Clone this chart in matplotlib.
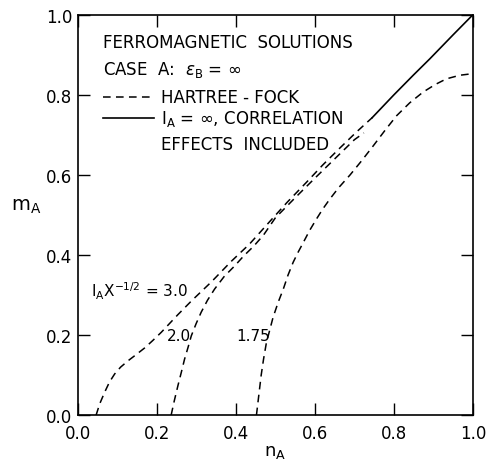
import matplotlib
matplotlib.use("Agg")
import matplotlib.pyplot as plt

# Hartree-Fock curves, one per value of I_A X^(-1/2)
n_30 = [0.046, 0.055, 0.0675, 0.080, 0.093, 0.108, 0.127, 0.147, 0.169, 0.190, 0.211,
        0.232, 0.253, 0.287, 0.338, 0.388, 0.435, 0.486, 0.530, 0.579, 0.620, 0.663,
        0.705, 0.745]
m_30 = [0.0, 0.028, 0.057, 0.083, 0.103, 0.120, 0.136, 0.151, 0.168, 0.187, 0.207,
        0.229, 0.251, 0.285, 0.333, 0.384, 0.428, 0.484, 0.532, 0.582, 0.625, 0.667,
        0.707, 0.743]

n_20 = [0.236, 0.244, 0.253, 0.262, 0.270, 0.279, 0.287, 0.299, 0.312, 0.328, 0.346,
        0.370, 0.397, 0.420, 0.445, 0.470, 0.500, 0.550, 0.600, 0.650, 0.700, 0.724]
m_20 = [0.0, 0.036, 0.073, 0.108, 0.140, 0.170, 0.198, 0.228, 0.257, 0.287, 0.315,
        0.346, 0.373, 0.398, 0.422, 0.450, 0.493, 0.543, 0.592, 0.640, 0.688, 0.705]

n_175 = [0.452, 0.455, 0.458, 0.461, 0.464, 0.470, 0.477, 0.486, 0.494, 0.507, 0.520,
         0.532, 0.545, 0.558, 0.571, 0.587, 0.604, 0.620, 0.638, 0.660, 0.689, 0.718,
         0.748, 0.778, 0.807, 0.840, 0.874, 0.905, 0.933, 0.967, 1.0]
m_175 = [0.0, 0.025, 0.050, 0.075, 0.100, 0.140, 0.180, 0.214, 0.244, 0.282, 0.315,
         0.350, 0.382, 0.408, 0.432, 0.462, 0.490, 0.515, 0.540, 0.568, 0.600, 0.635,
         0.673, 0.712, 0.748, 0.780, 0.807, 0.826, 0.840, 0.849, 0.853]

# I_A = infinity, correlation effects included
n_corr = [0.745, 0.80, 0.85, 0.891, 0.95, 1.0]
m_corr = [0.743, 0.80, 0.85, 0.890, 0.95, 1.0]

xticks = [0.0, 0.2, 0.4, 0.6, 0.8, 1.0]
yticks = [0.0, 0.2, 0.4, 0.6, 0.8, 1.0]

plt.rcParams['font.family'] = ['DejaVu Sans']
plt.rcParams['mathtext.fontset'] = 'dejavusans'

fig = plt.figure(figsize=(4.87, 4.64), dpi=100)
ax = fig.add_axes([0.160, 0.103, 0.811, 0.863])

dash = (0, (5, 3.5))
ax.plot(n_30, m_30, color='black', lw=1.1, linestyle=dash)
ax.plot(n_20, m_20, color='black', lw=1.1, linestyle=dash)
ax.plot(n_175, m_175, color='black', lw=1.1, linestyle=dash)
ax.plot(n_corr, m_corr, color='black', lw=1.2)

ax.set_xlim(0, 1)
ax.set_ylim(0, 1)
ax.set_xticks(xticks)
ax.set_yticks(yticks)
ax.set_xticklabels([f"{v:.1f}" for v in xticks])
ax.set_yticklabels([f"{v:.1f}" for v in yticks])
ax.tick_params(direction='in', length=8.5, width=1, top=True, right=True,
               labelsize=12)
ax.tick_params(axis='x', pad=6)
ax.tick_params(axis='y', pad=4)
for s in ax.spines.values():
    s.set_linewidth(1.2)

ax.set_xlabel(r"n$_\mathregular{A}$", fontsize=13, labelpad=0)
ax.set_ylabel(r"m$_\mathregular{A}$", fontsize=14, rotation=0, labelpad=14)

fs = 12
ax.text(0.063, 0.932, "FERROMAGNETIC  SOLUTIONS", fontsize=fs, va='center')
ax.text(0.063, 0.865, r"CASE  A:  $\epsilon_\mathregular{B}$ = $\infty$", fontsize=fs, va='center')
ax.plot([0.063, 0.192], [0.795, 0.795], color='black', lw=1.1, linestyle=dash)
ax.text(0.21, 0.795, "HARTREE - FOCK", fontsize=fs, va='center')
ax.plot([0.063, 0.192], [0.7425, 0.7425], color='black', lw=1.2)
ax.text(0.21, 0.7425, r"I$_\mathregular{A}$ = $\infty$, CORRELATION", fontsize=fs, va='center')
ax.text(0.21, 0.6775, "EFFECTS  INCLUDED", fontsize=fs, va='center')

ax.text(0.032, 0.311, r"I$_\mathregular{A}$X$^{\mathregular{-1/2}}$ = 3.0", fontsize=11, va='center')
ax.text(0.226, 0.198, "2.0", fontsize=11, va='center')
ax.text(0.40, 0.198, "1.75", fontsize=11, va='center')

fig.savefig("out.png", dpi=100)
